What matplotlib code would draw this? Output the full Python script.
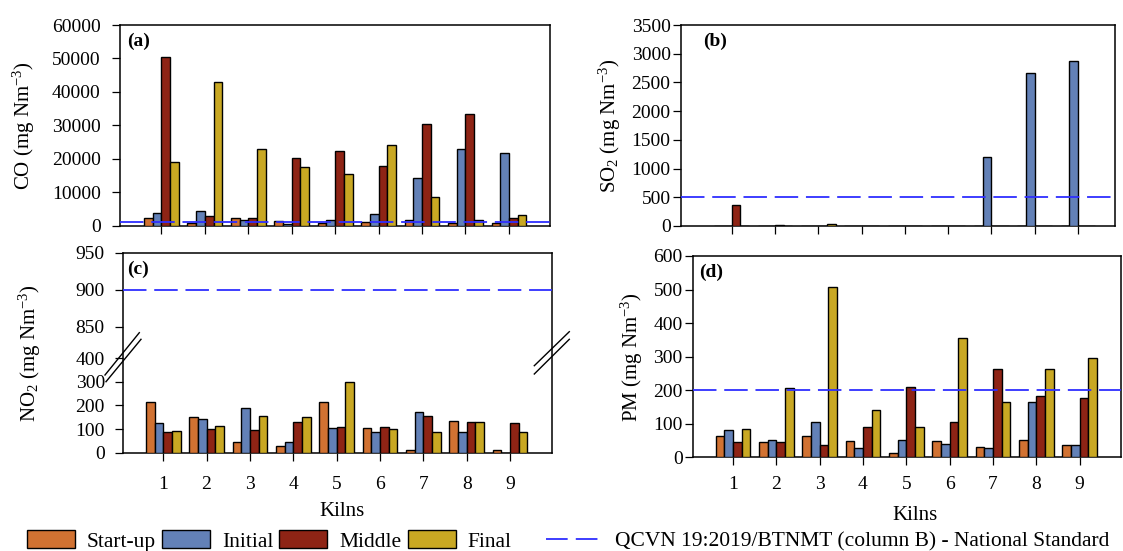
import numpy as np
import matplotlib
matplotlib.use("Agg")
import matplotlib.pyplot as plt
from matplotlib.patches import Patch
from matplotlib.lines import Line2D

# ---------------- data ----------------
kilns = [1, 2, 3, 4, 5, 6, 7, 8, 9]
series_names = ["Start-up", "Initial", "Middle", "Final"]

co_startup = [2200, 700, 2200, 1300, 900, 1200, 1600, 700, 700]
co_initial = [3900, 4500, 1700, 500, 1600, 3500, 14200, 22800, 21800]
co_middle = [50500, 2800, 2200, 20300, 22300, 17900, 30500, 33400, 2200]
co_final = [18900, 42900, 22800, 17400, 15500, 24200, 8700, 1600, 3300]

so2_startup = [0, 0, 0, 0, 0, 0, 0, 0, 0]
so2_initial = [0, 0, 0, 0, 0, 0, 1200, 2660, 2880]
so2_middle = [360, 20, 0, 0, 0, 0, 0, 0, 0]
so2_final = [0, 0, 40, 0, 0, 0, 0, 0, 0]

no2_startup = [216, 150, 44, 29, 216, 103, 10, 133, 10]
no2_initial = [126, 144, 190, 47, 103, 89, 174, 89, 0]
no2_middle = [86, 100, 97, 130, 107, 110, 157, 130, 126]
no2_final = [93, 114, 157, 151, 301, 100, 89, 130, 86]

pm_startup = [64, 45, 64, 48, 14, 48, 32, 53, 36]
pm_initial = [80, 53, 105, 29, 51, 39, 28, 166, 36]
pm_middle = [45, 45, 37, 89, 211, 105, 262, 182, 176]
pm_final = [85, 206, 507, 140, 89, 357, 165, 262, 297]

limit_co = 1000
limit_so2 = 500
limit_no2 = 900
limit_pm = 200

co_ticks = [0, 10000, 20000, 30000, 40000, 50000, 60000]
so2_ticks = [0, 500, 1000, 1500, 2000, 2500, 3000, 3500]
no2_ticks = [0, 100, 200, 300, 400, 850, 900, 950]
pm_ticks = [0, 100, 200, 300, 400, 500, 600]

standard_label = "QCVN 19:2019/BTNMT (column B) - National Standard"

# ---------------- style ----------------
plt.rcParams["font.family"] = ["Liberation Serif", "DejaVu Serif"]
plt.rcParams["mathtext.fontset"] = "custom"
plt.rcParams["mathtext.rm"] = "Liberation Serif"
plt.rcParams["mathtext.it"] = "Liberation Serif:italic"
plt.rcParams["mathtext.bf"] = "Liberation Serif:bold"

colors = ["#D17232", "#6381B7", "#8E2415", "#C9A823"]
line_color = "#2E2EFF"
TICK_FS = 14
LABEL_FS = 15
LEG_FS = 15.5
PANEL_FS = 14

W, H = 1123, 551
fig = plt.figure(figsize=(W / 100, H / 100), dpi=100)


def add_ax(l, t, r, b):
    return fig.add_axes([l / W, 1 - b / H, (r - l) / W, (b - t) / H])


def draw_bars(ax, vals):
    x = np.array(kilns, dtype=float)
    offs = [-0.3, -0.1, 0.1, 0.3]
    for v, o, c in zip(vals, offs, colors):
        ax.bar(x + o, v, width=0.2, color=c, edgecolor="black", linewidth=1.0, zorder=3)


def style(ax, box, xlim, ylim, yticks, ylabel, ylabel_right_px, ypad, show_xlabels,
          xpad=0, kilns_top_px=None, kilns_x_px=None):
    l, t, r, b = box
    ax.set_xlim(*xlim)
    ax.set_ylim(*ylim)
    ax.set_xticks(kilns)
    ax.set_yticks(yticks)
    ax.set_yticklabels([str(v) for v in yticks])
    for s in ax.spines.values():
        s.set_linewidth(1.1)
    ax.tick_params(axis="y", direction="out", length=6, width=0.9, labelsize=TICK_FS, pad=ypad)
    ax.tick_params(axis="x", direction="out", length=5.5, width=0.9, labelsize=TICK_FS, pad=xpad)
    if show_xlabels:
        ax.set_xticklabels([str(k) for k in kilns])
        ax.set_xlabel("Kilns", fontsize=LABEL_FS)
        ax.xaxis.set_label_coords((kilns_x_px - l) / (r - l), (b - kilns_top_px) / (b - t))
    else:
        ax.set_xticklabels([])
    ax.set_ylabel(ylabel, fontsize=LABEL_FS)
    ax.yaxis.set_label_coords((ylabel_right_px - l) / (r - l), 0.5)


def panel_label(txt, x_px, y_px):
    fig.text(x_px / W, 1 - y_px / H, txt, fontsize=PANEL_FS, fontweight="bold",
             ha="left", va="top")


def hline(ax, yv):
    ax.axhline(yv, color=line_color, linewidth=1.3, dashes=(13, 4.3), zorder=5)


# ---------------- (a) CO ----------------
box_a = (119.6, 25, 550, 225.7)
ax_a = add_ax(*box_a)
draw_bars(ax_a, [co_startup, co_initial, co_middle, co_final])
hline(ax_a, limit_co)
style(ax_a, box_a, (0.038, 9.946), (0, 60000), co_ticks, "CO (mg Nm$^{-3}$)", 37, 7.5, False)
panel_label("(a)", 127.5, 33)

# ---------------- (b) SO2 ----------------
box_b = (681.4, 25, 1114.8, 226)
ax_b = add_ax(*box_b)
draw_bars(ax_b, [so2_startup, so2_initial, so2_middle, so2_final])
hline(ax_b, limit_so2)
style(ax_b, box_b, (-0.159, 9.847), (0, 3500), so2_ticks, "SO$_2$ (mg Nm$^{-3}$)", 623, 1.8, False)
panel_label("(b)", 703, 33)

# ---------------- (c) NO2 (broken axis) ----------------
bp_val = np.array([0.0, 400.0, 850.0, 950.0])
bp_pix = np.array([0.0, 94.4, 126.0, 200.0])


def fwd(y):
    y = np.asarray(y, dtype=float)
    s1 = bp_pix[1] / bp_val[1]
    s2 = (bp_pix[2] - bp_pix[1]) / (bp_val[2] - bp_val[1])
    s3 = (bp_pix[3] - bp_pix[2]) / (bp_val[3] - bp_val[2])
    return np.where(y <= bp_val[1], y * s1,
                    np.where(y <= bp_val[2], bp_pix[1] + (y - bp_val[1]) * s2,
                             bp_pix[2] + (y - bp_val[2]) * s3))


def inv(p):
    p = np.asarray(p, dtype=float)
    s1 = bp_pix[1] / bp_val[1]
    s2 = (bp_pix[2] - bp_pix[1]) / (bp_val[2] - bp_val[1])
    s3 = (bp_pix[3] - bp_pix[2]) / (bp_val[3] - bp_val[2])
    return np.where(p <= bp_pix[1], p / s1,
                    np.where(p <= bp_pix[2], bp_val[1] + (p - bp_pix[1]) / s2,
                             bp_val[2] + (p - bp_pix[2]) / s3))


box_c = (123.2, 252.7, 551.8, 452.7)
ax_c = add_ax(*box_c)
ax_c.set_yscale("function", functions=(fwd, inv))
draw_bars(ax_c, [no2_startup, no2_initial, no2_middle, no2_final])
hline(ax_c, limit_no2)
style(ax_c, box_c, (0.077, 9.964), (0, 950), no2_ticks, "NO$_2$ (mg Nm$^{-3}$)", 43, 7.2, True,
      xpad=11, kilns_top_px=502, kilns_x_px=341.8)
ax_c.yaxis.set_minor_locator(matplotlib.ticker.NullLocator())
panel_label("(c)", 127.5, 261)

# break marks
for (x0, y0, x1, y1) in [(105, 375, 139.3, 332.7), (106, 381.7, 141, 339.3),
                         (534.3, 365.7, 569.3, 331.7), (534.3, 374, 569.3, 339.3)]:
    fig.add_artist(Line2D([x0 / W, x1 / W], [1 - y0 / H, 1 - y1 / H], color="black",
                          linewidth=1.0, transform=fig.transFigure))

# ---------------- (d) PM ----------------
box_d = (692.9, 256, 1120.9, 457.3)
ax_d = add_ax(*box_d)
draw_bars(ax_d, [pm_startup, pm_initial, pm_middle, pm_final])
hline(ax_d, limit_pm)
style(ax_d, box_d, (0.075, 9.953), (0, 600), pm_ticks, "PM (mg Nm$^{-3}$)", 645, 1.4, True,
      xpad=8, kilns_top_px=506, kilns_x_px=914.6)
panel_label("(d)", 699, 264)

# ---------------- legend ----------------
fs_px = LEG_FS * 100 / 72
leg_y = 1 - 541 / H
items = [
    (Patch(facecolor=colors[0], edgecolor="black", linewidth=1.0), series_names[0], 26.8),
    (Patch(facecolor=colors[1], edgecolor="black", linewidth=1.0), series_names[1], 161.8),
    (Patch(facecolor=colors[2], edgecolor="black", linewidth=1.0), series_names[2], 279.3),
    (Patch(facecolor=colors[3], edgecolor="black", linewidth=1.0), series_names[3], 407.9),
]
for h, lab, x0 in items:
    fig.legend(handles=[h], labels=[lab], loc="center left", bbox_to_anchor=(x0 / W, leg_y),
               frameon=False, fontsize=LEG_FS, borderpad=0, borderaxespad=0,
               handlelength=48 / fs_px, handleheight=18.5 / fs_px, handletextpad=12 / fs_px)
dash_h = Line2D([0], [0], color=line_color, linewidth=1.3, dashes=(12, 4.5))
fig.legend(handles=[dash_h], labels=[standard_label], loc="center left",
           bbox_to_anchor=(546.4 / W, leg_y), frameon=False, fontsize=LEG_FS, borderpad=0,
           borderaxespad=0, handlelength=57 / fs_px, handletextpad=11.5 / fs_px)

fig.savefig("out.png", dpi=100)
